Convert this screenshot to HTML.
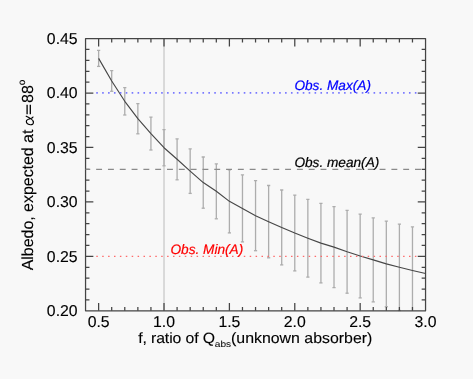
<!DOCTYPE html><html><head><meta charset="utf-8"><style>html,body{margin:0;padding:0;background:#f8f8f8;}svg{display:block;will-change:transform}</style></head><body>
<svg width="473" height="379" viewBox="0 0 473 379" text-rendering="geometricPrecision">
<rect width="473" height="379" fill="#f8f8f8"/>
<defs><clipPath id="cp"><rect x="93.7" y="0" width="323.6" height="379"/></clipPath></defs>
<line x1="164.01" y1="38.6" x2="164.01" y2="310.8" stroke="#c8c8c8" stroke-width="1.3"/>
<path d="M98.63 50.30V66.40M97.03 50.30h3.2" stroke="#adadad" stroke-width="1.3" fill="none"/>
<path d="M97.03 66.40h3.2" stroke="#adadad" stroke-width="1.3" fill="none"/>
<path d="M111.70 70.70V91.30M110.10 70.70h3.2" stroke="#adadad" stroke-width="1.3" fill="none"/>
<path d="M110.10 91.30h3.2" stroke="#adadad" stroke-width="1.3" fill="none"/>
<path d="M124.78 87.60V115.00M123.18 87.60h3.2" stroke="#adadad" stroke-width="1.3" fill="none"/>
<path d="M123.18 115.00h3.2" stroke="#adadad" stroke-width="1.3" fill="none"/>
<path d="M137.86 103.60V133.80M136.26 103.60h3.2" stroke="#adadad" stroke-width="1.3" fill="none"/>
<path d="M136.26 133.80h3.2" stroke="#adadad" stroke-width="1.3" fill="none"/>
<path d="M150.93 117.10V150.00M149.33 117.10h3.2" stroke="#adadad" stroke-width="1.3" fill="none"/>
<path d="M149.33 150.00h3.2" stroke="#adadad" stroke-width="1.3" fill="none"/>
<path d="M164.01 129.60V165.80M162.41 129.60h3.2" stroke="#adadad" stroke-width="1.3" fill="none"/>
<path d="M162.41 165.80h3.2" stroke="#adadad" stroke-width="1.3" fill="none"/>
<path d="M177.09 138.80V179.80M175.49 138.80h3.2" stroke="#adadad" stroke-width="1.3" fill="none"/>
<path d="M175.49 179.80h3.2" stroke="#adadad" stroke-width="1.3" fill="none"/>
<path d="M190.17 148.90V193.40M188.57 148.90h3.2" stroke="#adadad" stroke-width="1.3" fill="none"/>
<path d="M188.57 193.40h3.2" stroke="#adadad" stroke-width="1.3" fill="none"/>
<path d="M203.24 157.00V208.20M201.64 157.00h3.2" stroke="#adadad" stroke-width="1.3" fill="none"/>
<path d="M201.64 208.20h3.2" stroke="#adadad" stroke-width="1.3" fill="none"/>
<path d="M216.32 163.80V218.80M214.72 163.80h3.2" stroke="#adadad" stroke-width="1.3" fill="none"/>
<path d="M214.72 218.80h3.2" stroke="#adadad" stroke-width="1.3" fill="none"/>
<path d="M229.40 169.80V232.90M227.80 169.80h3.2" stroke="#adadad" stroke-width="1.3" fill="none"/>
<path d="M227.80 232.90h3.2" stroke="#adadad" stroke-width="1.3" fill="none"/>
<path d="M242.47 174.90V241.90M240.87 174.90h3.2" stroke="#adadad" stroke-width="1.3" fill="none"/>
<path d="M240.87 241.90h3.2" stroke="#adadad" stroke-width="1.3" fill="none"/>
<path d="M255.55 180.70V250.70M253.95 180.70h3.2" stroke="#adadad" stroke-width="1.3" fill="none"/>
<path d="M253.95 250.70h3.2" stroke="#adadad" stroke-width="1.3" fill="none"/>
<path d="M268.63 185.50V257.80M267.03 185.50h3.2" stroke="#adadad" stroke-width="1.3" fill="none"/>
<path d="M267.03 257.80h3.2" stroke="#adadad" stroke-width="1.3" fill="none"/>
<path d="M281.70 190.00V264.90M280.10 190.00h3.2" stroke="#adadad" stroke-width="1.3" fill="none"/>
<path d="M280.10 264.90h3.2" stroke="#adadad" stroke-width="1.3" fill="none"/>
<path d="M294.78 195.10V270.90M293.18 195.10h3.2" stroke="#adadad" stroke-width="1.3" fill="none"/>
<path d="M293.18 270.90h3.2" stroke="#adadad" stroke-width="1.3" fill="none"/>
<path d="M307.86 199.30V277.10M306.26 199.30h3.2" stroke="#adadad" stroke-width="1.3" fill="none"/>
<path d="M306.26 277.10h3.2" stroke="#adadad" stroke-width="1.3" fill="none"/>
<path d="M320.93 203.30V282.90M319.33 203.30h3.2" stroke="#adadad" stroke-width="1.3" fill="none"/>
<path d="M319.33 282.90h3.2" stroke="#adadad" stroke-width="1.3" fill="none"/>
<path d="M334.01 206.70V287.60M332.41 206.70h3.2" stroke="#adadad" stroke-width="1.3" fill="none"/>
<path d="M332.41 287.60h3.2" stroke="#adadad" stroke-width="1.3" fill="none"/>
<path d="M347.09 210.40V293.20M345.49 210.40h3.2" stroke="#adadad" stroke-width="1.3" fill="none"/>
<path d="M345.49 293.20h3.2" stroke="#adadad" stroke-width="1.3" fill="none"/>
<path d="M360.17 214.10V297.90M358.57 214.10h3.2" stroke="#adadad" stroke-width="1.3" fill="none"/>
<path d="M358.57 297.90h3.2" stroke="#adadad" stroke-width="1.3" fill="none"/>
<path d="M373.24 217.80V301.90M371.64 217.80h3.2" stroke="#adadad" stroke-width="1.3" fill="none"/>
<path d="M371.64 301.90h3.2" stroke="#adadad" stroke-width="1.3" fill="none"/>
<path d="M386.32 221.10V306.70M384.72 221.10h3.2" stroke="#adadad" stroke-width="1.3" fill="none"/>
<path d="M384.72 306.70h3.2" stroke="#adadad" stroke-width="1.3" fill="none"/>
<path d="M399.40 224.10V310.50M397.80 224.10h3.2" stroke="#adadad" stroke-width="1.3" fill="none"/>
<path d="M397.80 310.50h3.2" stroke="#adadad" stroke-width="1.3" fill="none"/>
<path d="M412.47 226.90V310.80M410.87 226.90h3.2" stroke="#adadad" stroke-width="1.3" fill="none"/>
<polyline points="98.63,58.35 111.70,81.00 124.78,101.30 137.86,118.70 150.93,133.55 164.01,147.70 177.09,159.30 190.17,171.15 203.24,182.60 216.32,191.30 229.40,201.35 242.47,208.40 255.55,215.70 268.63,221.65 281.70,227.45 294.78,233.00 307.86,238.20 320.93,243.10 334.01,247.15 347.09,251.80 360.17,256.00 373.24,259.85 386.32,263.90 399.40,267.30 412.47,270.50 425.55,273.50" fill="none" stroke="#474747" stroke-width="1.15" stroke-linejoin="round"/>
<rect x="85.55" y="38.6" width="340.00" height="272.20" fill="none" stroke="#444" stroke-width="1.25" stroke-linejoin="round"/>
<path d="M98.63 310.8v-7.8M98.63 38.6v7.8M111.70 310.8v-3.9M111.70 38.6v3.9M124.78 310.8v-3.9M124.78 38.6v3.9M137.86 310.8v-3.9M137.86 38.6v3.9M150.93 310.8v-3.9M150.93 38.6v3.9M164.01 310.8v-7.8M164.01 38.6v7.8M177.09 310.8v-3.9M177.09 38.6v3.9M190.17 310.8v-3.9M190.17 38.6v3.9M203.24 310.8v-3.9M203.24 38.6v3.9M216.32 310.8v-3.9M216.32 38.6v3.9M229.40 310.8v-7.8M229.40 38.6v7.8M242.47 310.8v-3.9M242.47 38.6v3.9M255.55 310.8v-3.9M255.55 38.6v3.9M268.63 310.8v-3.9M268.63 38.6v3.9M281.70 310.8v-3.9M281.70 38.6v3.9M294.78 310.8v-7.8M294.78 38.6v7.8M307.86 310.8v-3.9M307.86 38.6v3.9M320.93 310.8v-3.9M320.93 38.6v3.9M334.01 310.8v-3.9M334.01 38.6v3.9M347.09 310.8v-3.9M347.09 38.6v3.9M360.17 310.8v-7.8M360.17 38.6v7.8M373.24 310.8v-3.9M373.24 38.6v3.9M386.32 310.8v-3.9M386.32 38.6v3.9M399.40 310.8v-3.9M399.40 38.6v3.9M412.47 310.8v-3.9M412.47 38.6v3.9M85.55 299.91h3.9M425.55 299.91h-3.9M85.55 289.02h3.9M425.55 289.02h-3.9M85.55 278.14h3.9M425.55 278.14h-3.9M85.55 267.25h3.9M425.55 267.25h-3.9M85.55 256.36h7.8M425.55 256.36h-7.8M85.55 245.47h3.9M425.55 245.47h-3.9M85.55 234.58h3.9M425.55 234.58h-3.9M85.55 223.70h3.9M425.55 223.70h-3.9M85.55 212.81h3.9M425.55 212.81h-3.9M85.55 201.92h7.8M425.55 201.92h-7.8M85.55 191.03h3.9M425.55 191.03h-3.9M85.55 180.14h3.9M425.55 180.14h-3.9M85.55 169.26h3.9M425.55 169.26h-3.9M85.55 158.37h3.9M425.55 158.37h-3.9M85.55 147.48h7.8M425.55 147.48h-7.8M85.55 136.59h3.9M425.55 136.59h-3.9M85.55 125.70h3.9M425.55 125.70h-3.9M85.55 114.82h3.9M425.55 114.82h-3.9M85.55 103.93h3.9M425.55 103.93h-3.9M85.55 93.04h7.8M425.55 93.04h-7.8M85.55 82.15h3.9M425.55 82.15h-3.9M85.55 71.26h3.9M425.55 71.26h-3.9M85.55 60.38h3.9M425.55 60.38h-3.9M85.55 49.49h3.9M425.55 49.49h-3.9" stroke="#444" stroke-width="1.25" fill="none"/>
<line clip-path="url(#cp)" x1="85.55" y1="92.9" x2="425.55" y2="92.9" stroke="#7878ff" stroke-width="1.6" stroke-dasharray="1.6 4.3" stroke-dashoffset="-10.7"/>
<line x1="85.55" y1="169.3" x2="425.55" y2="169.3" stroke="#8a8a8a" stroke-width="1.3" stroke-dasharray="5.9 5.91" stroke-dashoffset="1.2"/>
<line clip-path="url(#cp)" x1="85.55" y1="256.4" x2="425.55" y2="256.4" stroke="#ff6a6a" stroke-width="1.35" stroke-dasharray="1.5 4.4" stroke-dashoffset="-10.75"/>
<g font-family="Liberation Sans, sans-serif" font-size="15.8" fill="#000" stroke="#000" stroke-width="0.12">
<text x="77.6" y="43.90" text-anchor="end">0.45</text>
<text x="77.6" y="98.34" text-anchor="end">0.40</text>
<text x="77.6" y="152.78" text-anchor="end">0.35</text>
<text x="77.6" y="207.22" text-anchor="end">0.30</text>
<text x="77.6" y="261.66" text-anchor="end">0.25</text>
<text x="77.6" y="316.10" text-anchor="end">0.20</text>
<text x="98.63" y="327.1" text-anchor="middle">0.5</text>
<text x="164.01" y="327.1" text-anchor="middle">1.0</text>
<text x="229.40" y="327.1" text-anchor="middle">1.5</text>
<text x="294.78" y="327.1" text-anchor="middle">2.0</text>
<text x="360.17" y="327.1" text-anchor="middle">2.5</text>
<text x="425.55" y="327.1" text-anchor="middle">3.0</text>
<g transform="translate(0,343.3) scale(1,0.94)">
<text x="138.2" y="0" font-size="15.8" letter-spacing="-0.11">f, ratio of Q</text>
<text x="231.0" y="0" font-size="15.9">(unknown absorber)</text>
</g>
<g transform="translate(0,347.3) scale(1,0.87)"><text x="214.8" y="0" font-size="10.1" stroke-width="0.05">abs</text></g>
<g transform="translate(33.1,270.3) rotate(-90)">
<text x="0" y="0" font-size="16" letter-spacing="-0.04">Albedo, expected at</text>
<text x="167.4" y="0" font-size="16">88</text>
<text x="185.0" y="-8.3" font-size="10">o</text>
</g>
</g>
<g transform="translate(33.6,270) rotate(-90)" stroke="#000" stroke-width="1.3"><path d="M155.8 -6.5H165.3M155.8 -3.3H165.3"/><path fill="none" stroke-width="1.15" stroke-linecap="round" d="M153.8,-7.4 C153.0,-5.6 152.0,-3.8 151.1,-2.5 C150.0,-0.9 148.7,-0.1 147.3,-0.2 C145.7,-0.3 145.1,-1.8 145.3,-3.4 C145.6,-5.6 147.2,-7.3 148.8,-7.25 C150.3,-7.2 150.8,-5.3 151.2,-3.3 C151.5,-1.9 152.0,-1.0 152.9,-0.6"/></g>
<g font-family="Liberation Sans, sans-serif" font-size="13.65" font-style="italic">
<text x="294.4" y="90.4" fill="#0000ff" stroke="#0000ff" stroke-width="0.2">Obs. Max(A)</text>
<text x="294.4" y="166.7" fill="#000" stroke="#000" stroke-width="0.2">Obs. mean(A)</text>
<text x="170.5" y="254.3" fill="#ff0000" stroke="#ff0000" stroke-width="0.2">Obs. Min(A)</text>
</g>
</svg></body></html>
